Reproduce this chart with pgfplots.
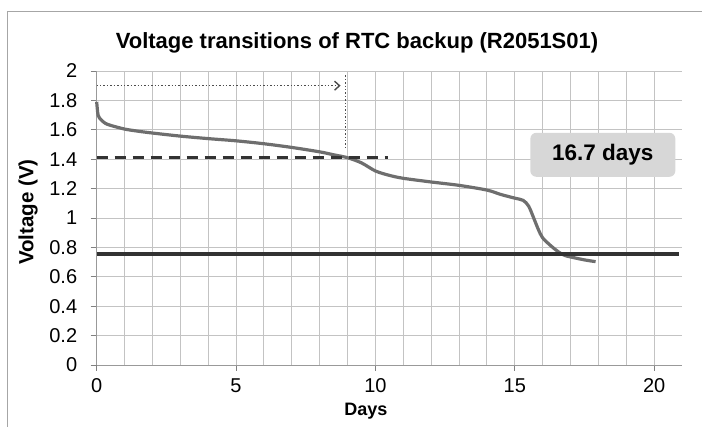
\documentclass[border=0pt]{standalone}
\usepackage{pgfplots}
\pgfplotsset{compat=1.18}
\usepackage{fontspec}
\setmainfont{Liberation Sans}
\usetikzlibrary{arrows.meta}
\definecolor{gridc}{RGB}{195,195,195}
\definecolor{curvec}{RGB}{110,110,110}
\definecolor{darkl}{RGB}{50,50,50}
\definecolor{boxc}{RGB}{215,215,215}
\begin{document}
\begin{tikzpicture}[x=1pt,y=1pt]
\useasboundingbox (0,0) rectangle (702,427);
\draw[gray!70,line width=1pt] (7,0) -- (7,415) -- (702,415);
\node[font=\bfseries\fontsize{22}{26}\selectfont] at (357,384) {Voltage transitions of RTC backup (R2051S01)};
\node[font=\bfseries\fontsize{20.5}{24}\selectfont,rotate=90] at (28,215) {Voltage (V)};
\node[font=\bfseries\fontsize{18}{22}\selectfont] at (366,16) {Days};
\begin{axis}[
  at={(96.7pt,62pt)}, anchor=south west,
  width=585.3pt, height=294pt, scale only axis,
  xmin=0, xmax=21, ymin=0, ymax=2,
  xtick={0,5,10,15,20},
  minor x tick num=4,
  ytick={0,0.2,0.4,0.6,0.8,1,1.2,1.4,1.6,1.8,2},
  grid=both,
  major grid style={gridc, line width=0.9pt},
  minor grid style={gridc, line width=0.9pt},
  minor tick length=0pt,
  major tick length=6pt,
  tick align=outside,
  tick style={gray, line width=0.9pt},
  axis x line*=bottom, axis y line*=left,
  axis line style={gray!80, line width=0.9pt},
  /pgf/number format/assume math mode=true,
  ticklabel style={font=\fontsize{20}{24}\selectfont},
  yticklabel style={xshift=-10pt},
  xticklabel style={yshift=-4pt},
  clip=false,
]
\addplot[curvec, line width=3.2pt, smooth, tension=0.5] coordinates {
(0,1.79) (0.05,1.70) (0.15,1.67) (0.3,1.645) (0.5,1.63) (1,1.605) (1.5,1.59)
(2,1.578) (3,1.557) (4,1.54) (5,1.525) (6,1.505) (7,1.48) (8,1.45) (8.5,1.43)
(9,1.41) (9.5,1.375) (10,1.32) (10.5,1.29) (11,1.27) (12,1.245) (13,1.222)
(14,1.19) (14.5,1.16) (15,1.135) (15.3,1.12) (15.5,1.08) (15.7,0.99) (15.85,0.92)
(16,0.865) (16.3,0.81) (16.6,0.765) (16.8,0.745) (17,0.735) (17.5,0.715) (17.9,0.703)
};
\addplot[darkl, line width=3.4pt] coordinates {(0,0.755) (20.9,0.755)};
\addplot[black!80, line width=3.2pt, dash pattern=on 11pt off 7pt] coordinates {(0,1.41) (10.45,1.41)};
\addplot[black!70, line width=1.4pt, dotted, -{Straight Barb[length=5pt,width=9pt]}] coordinates {(0,1.9) (8.75,1.9)};
\addplot[black!70, line width=1.4pt, dotted] coordinates {(8.93,1.97) (8.93,1.48)};
\node[fill=boxc, rounded corners=6pt, minimum width=145pt, minimum height=44pt, font=\bfseries\fontsize{22.5}{26}\selectfont] at (axis cs:18.16,1.43) {16.7 days};
\end{axis}
\end{tikzpicture}
\end{document}
